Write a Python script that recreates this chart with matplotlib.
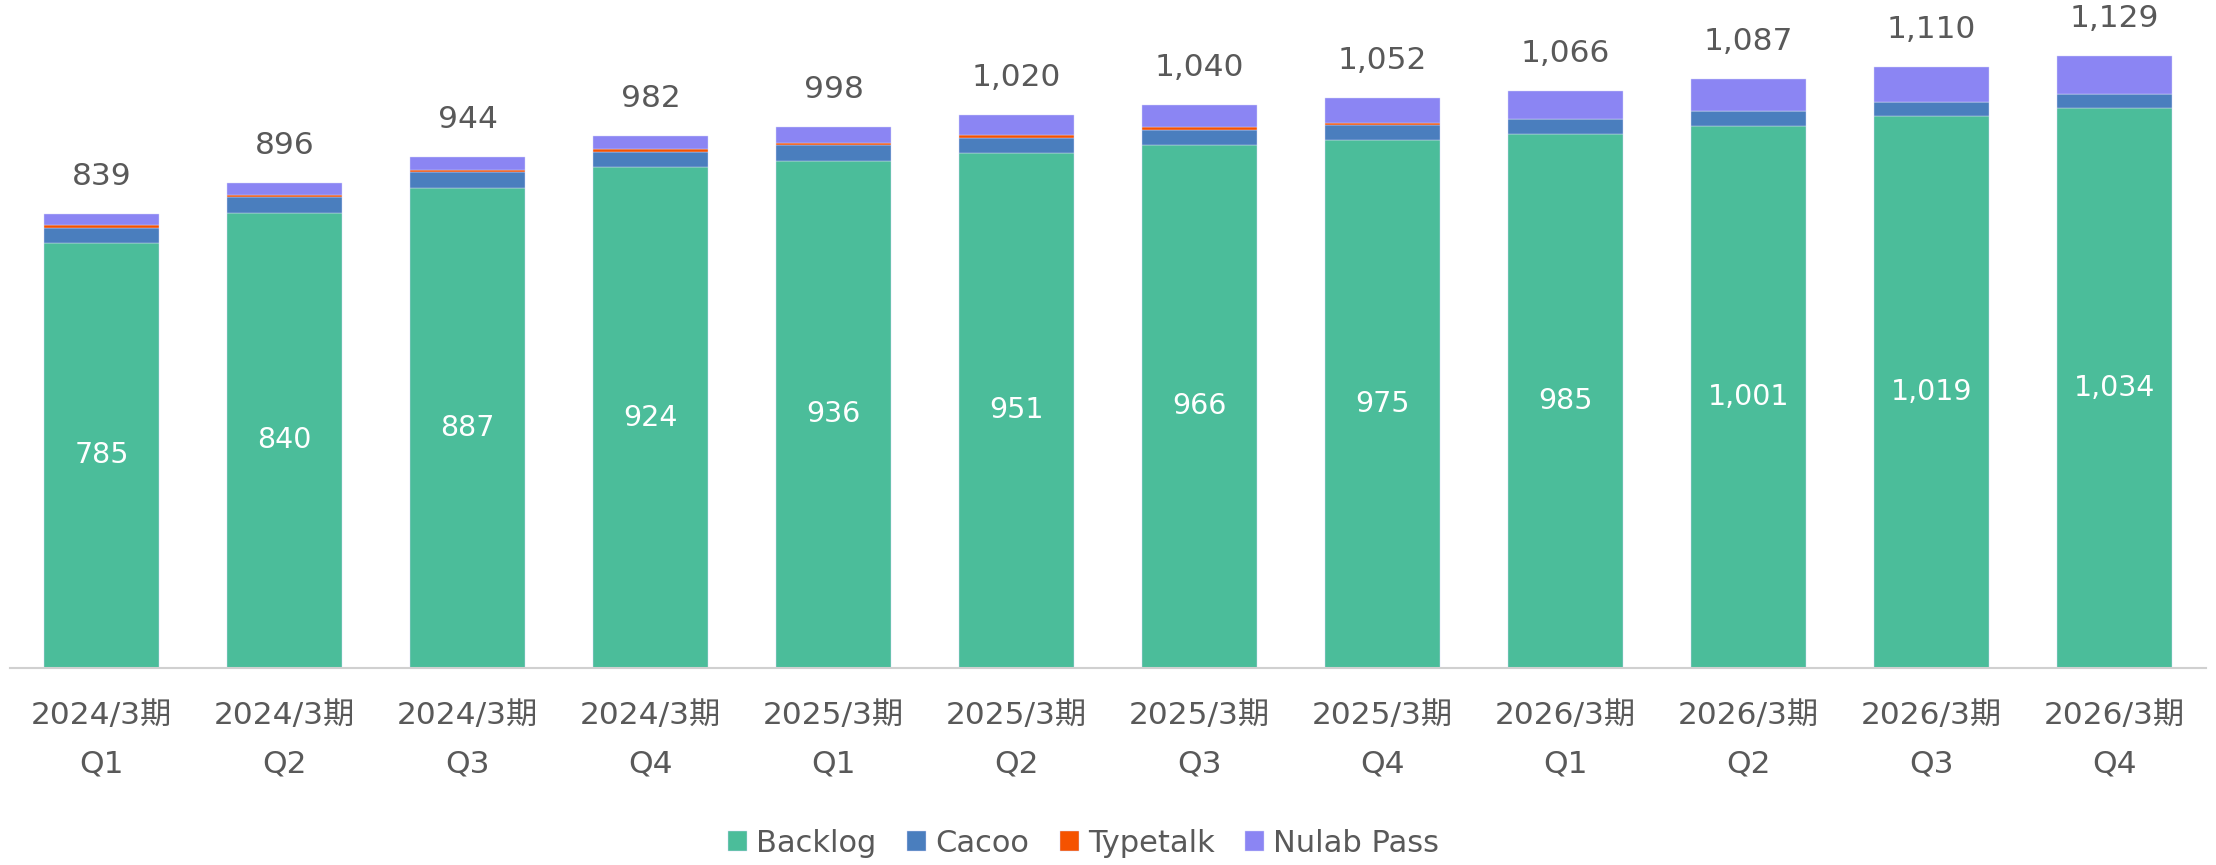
import numpy as np
import matplotlib.pyplot as plt

plt.rcParams['font.family'] = ['DejaVu Sans', 'Noto Sans CJK JP']

# 四半期ごとの契約数
periods = ["2024/3期", "2024/3期", "2024/3期", "2024/3期",
           "2025/3期", "2025/3期", "2025/3期", "2025/3期",
           "2026/3期", "2026/3期", "2026/3期", "2026/3期"]
quarters = ["Q1", "Q2", "Q3", "Q4"] * 3
backlog = [785, 840, 887, 924, 936, 951, 966, 975, 985, 1001, 1019, 1034]
cacoo = [28, 30, 29, 29, 29, 28, 28, 28, 28, 27, 26, 26]
typetalk = [4, 4, 4, 5, 5, 5, 4, 3, 1, 0, 0, 0]
nulab_pass = [22, 22, 24, 24, 28, 36, 42, 46, 52, 59, 65, 69]
totals = [839, 896, 944, 982, 998, 1020, 1040, 1052, 1066, 1087, 1110, 1129]

names = ["Backlog", "Cacoo", "Typetalk", "Nulab Pass"]
colors = ["#4BBD9A", "#4A7EBE", "#F55200", "#8B85F3"]
gray = "#595959"

fig = plt.figure(figsize=(22.16, 8.65), dpi=100)
ax = fig.add_axes([10/2216, 1-668/865, 2196/2216, 650/865])

x = np.arange(len(backlog))
bottom = np.zeros(len(x))
for vals, name, c in zip([backlog, cacoo, typetalk, nulab_pass], names, colors):
    ax.bar(x, vals, 0.625, bottom=bottom, color=c, label=name,
           edgecolor="#D8D8F8", linewidth=0.3)
    bottom += np.array(vals)

# ラベル
for i in x:
    ax.text(i, backlog[i]/2, f"{backlog[i]:,}", ha="center", va="center",
            color="white", fontsize=20.5)
    ax.annotate(f"{totals[i]:,}", (i, bottom[i]), xytext=(0, 27),
                textcoords="offset points", ha="center", va="center",
                color=gray, fontsize=22.5)

ax.set_xlim(-0.5, len(x)-0.5)
ax.set_ylim(0, 1200)
ax.set_yticks([])
ax.set_xticks(x)
ax.set_xticklabels([p + "\n" + q for p, q in zip(periods, quarters)],
                   fontsize=22.5, color=gray)
for t in ax.get_xticklabels():
    t.set_linespacing(1.85)
ax.tick_params(axis="x", length=0, pad=24)
for s in ["top", "left", "right"]:
    ax.spines[s].set_visible(False)
ax.spines["bottom"].set_color("#D0D0D0")
ax.spines["bottom"].set_linewidth(1.5)

leg = fig.legend(loc="center", bbox_to_anchor=(0.489, 1-843/865), ncol=4,
                 frameon=False, fontsize=22, handlelength=0.62, handleheight=0.62,
                 handletextpad=0.3, columnspacing=1.0)
for t in leg.get_texts():
    t.set_color(gray)

fig.savefig("out.png", dpi=100)
